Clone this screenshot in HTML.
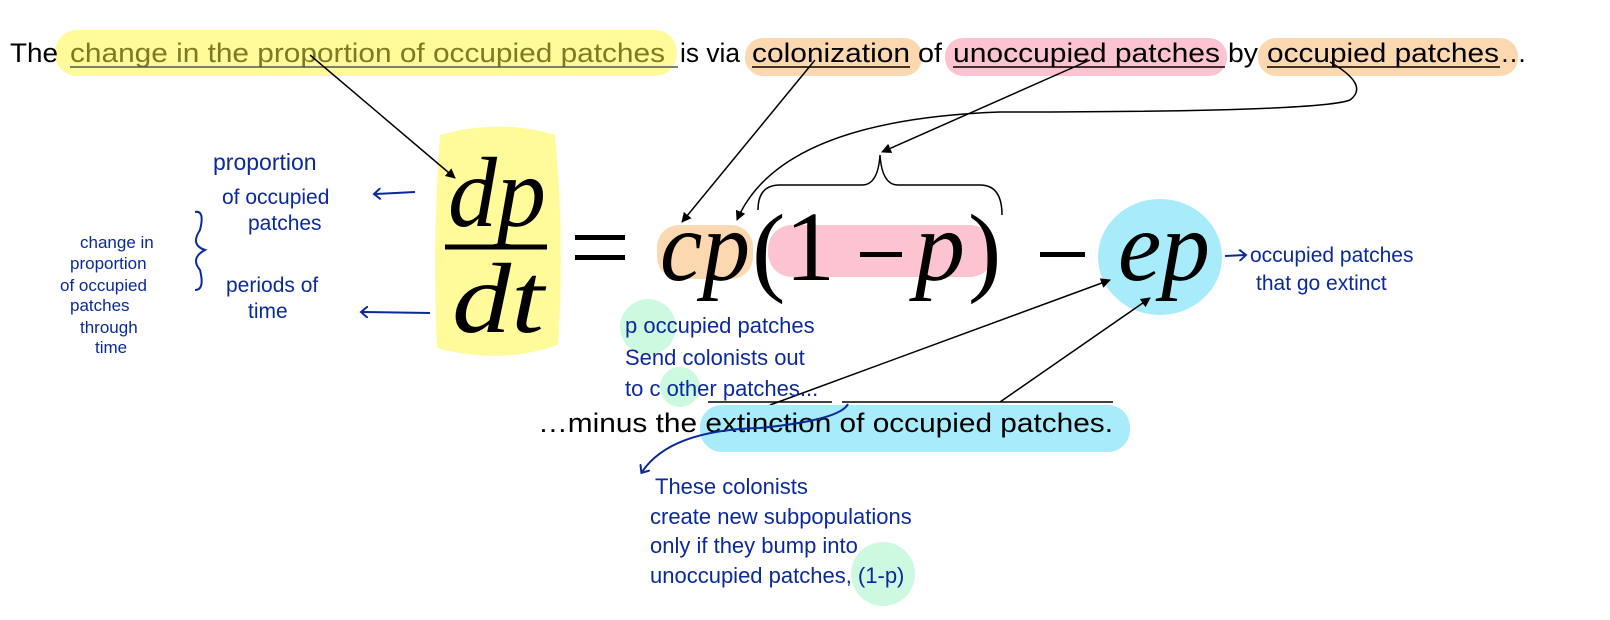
<!DOCTYPE html>
<html><head><meta charset="utf-8"><style>
html,body{margin:0;padding:0;background:#fff;width:1610px;height:620px;overflow:hidden}
svg{display:block}
.t{font-family:"Liberation Sans",Arial,sans-serif;font-size:27px;fill:#000}
.m{font-family:"Liberation Serif",serif;font-style:italic;fill:#000}
.h{font-family:"Liberation Sans Narrow","Liberation Sans",sans-serif;fill:#0a2a9a;font-size:21px}
</style></head><body>
<svg width="1610" height="620" viewBox="0 0 1610 620" xmlns="http://www.w3.org/2000/svg">
<defs>
<marker id="a" markerWidth="10" markerHeight="10" refX="9" refY="5" orient="auto" markerUnits="userSpaceOnUse"><path d="M0,0 L10,5 L0,10 z" fill="#000"/></marker>
<marker id="b" markerWidth="12" markerHeight="12" refX="6" refY="6" orient="auto" markerUnits="userSpaceOnUse"><path d="M0,0 L7,6 L0,12" fill="none" stroke="#0a2a9a" stroke-width="2"/></marker>
</defs>
<rect x="55" y="30" width="622" height="46" rx="22" fill="#fffb9a"/>
<rect x="745" y="38" width="177" height="38" rx="18" fill="#fcd8b0"/>
<rect x="945" y="38" width="282" height="38" rx="18" fill="#fcc3d0"/>
<rect x="1258" y="38" width="260" height="38" rx="18" fill="#fcd8b0"/>
<text class="t" x="10" y="62" textLength="48" lengthAdjust="spacingAndGlyphs">The</text>
<text class="t" x="70" y="62" textLength="595" lengthAdjust="spacingAndGlyphs" style="fill:#7d7a22">change in the proportion of occupied patches</text>
<line x1="70" y1="67" x2="678" y2="67" stroke="#555" stroke-width="1.5"/>
<text class="t" x="680" y="62" textLength="60" lengthAdjust="spacingAndGlyphs">is via</text>
<text class="t" x="752" y="62" textLength="158" lengthAdjust="spacingAndGlyphs">colonization</text>
<line x1="752" y1="67" x2="910" y2="67" stroke="#000" stroke-width="1.5"/>
<text class="t" x="918" y="62" textLength="24" lengthAdjust="spacingAndGlyphs">of</text>
<text class="t" x="953" y="62" textLength="267" lengthAdjust="spacingAndGlyphs">unoccupied patches</text>
<line x1="953" y1="67" x2="1225" y2="67" stroke="#000" stroke-width="1.5"/>
<text class="t" x="1228" y="62" textLength="30" lengthAdjust="spacingAndGlyphs">by</text>
<text class="t" x="1267" y="62" textLength="232" lengthAdjust="spacingAndGlyphs">occupied patches</text>
<line x1="1267" y1="67" x2="1500" y2="67" stroke="#000" stroke-width="1.5"/>
<text class="t" x="1500" y="62">…</text>
<path d="M440,135 Q500,118 555,135 Q565,240 558,345 Q500,365 437,348 Q432,240 440,135 Z" fill="#fffb9a"/>
<rect x="657" y="225" width="96" height="54" rx="22" fill="#fcd8b0"/>
<rect x="768" y="225" width="226" height="52" rx="24" fill="#fcc3d0"/>
<ellipse cx="1160" cy="257" rx="62" ry="58" fill="#a8ecfc"/>
<circle cx="648" cy="327" r="28" fill="#cdf9e0"/>
<circle cx="680" cy="387" r="20" fill="#cdf9e0"/>
<circle cx="883" cy="574" r="32" fill="#cdf9e0"/>
<text class="m" x="448" y="226" font-size="100" textLength="98" lengthAdjust="spacingAndGlyphs">dp</text>
<line x1="445" y1="247" x2="547" y2="247" stroke="#000" stroke-width="5"/>
<text class="m" x="452" y="332" font-size="100" textLength="92" lengthAdjust="spacingAndGlyphs">dt</text>
<rect x="575" y="235" width="50" height="5" fill="#000"/>
<rect x="575" y="255" width="50" height="5" fill="#000"/>
<text class="m" x="660" y="280" font-size="100" textLength="90" lengthAdjust="spacingAndGlyphs">cp</text>
<text x="752" y="283" font-size="100" font-family="Liberation Serif,serif">(</text>
<text x="785" y="280" font-size="100" font-family="Liberation Serif,serif">1</text>
<rect x="860" y="252" width="42" height="5" fill="#000"/>
<text class="m" x="915" y="280" font-size="100">p</text>
<text x="968" y="283" font-size="100" font-family="Liberation Serif,serif">)</text>
<rect x="1040" y="252" width="45" height="5" fill="#000"/>
<text class="m" x="1118" y="280" font-size="100" textLength="92" lengthAdjust="spacingAndGlyphs">ep</text>
<path d="M758,210 Q758,185 780,185 L862,185 Q878,185 880,155 Q882,185 898,185 L980,185 Q1002,185 1002,215" fill="none" stroke="#000" stroke-width="1.5"/>
<line x1="310" y1="55" x2="455" y2="178" stroke="#000" stroke-width="1.5" marker-end="url(#a)"/>
<line x1="815" y1="60" x2="682" y2="222" stroke="#000" stroke-width="1.5" marker-end="url(#a)"/>
<line x1="1090" y1="60" x2="882" y2="152" stroke="#000" stroke-width="1.5" marker-end="url(#a)"/>
<path d="M1330,62 Q1370,85 1350,100 Q1320,112 1000,112 Q780,120 737,220" fill="none" stroke="#000" stroke-width="1.5" marker-end="url(#a)"/>
<line x1="770" y1="405" x2="1110" y2="280" stroke="#000" stroke-width="1.5" marker-end="url(#a)"/>
<line x1="1000" y1="402" x2="1150" y2="298" stroke="#000" stroke-width="1.5" marker-end="url(#a)"/>
<rect x="700" y="405" width="430" height="47" rx="22" fill="#a8ecfc"/>
<line x1="708" y1="402" x2="832" y2="402" stroke="#000" stroke-width="1.5"/>
<line x1="842" y1="402" x2="1113" y2="402" stroke="#000" stroke-width="1.5"/>
<text class="t" x="538" y="432" textLength="575" lengthAdjust="spacingAndGlyphs">…minus the extinction of occupied patches.</text>
<g class="h">
<text x="213" y="170" font-size="23">proportion</text>
<text x="222" y="204">of occupied</text>
<text x="248" y="230">patches</text>
<text x="226" y="292">periods of</text>
<text x="248" y="318">time</text>
<text x="80" y="248" font-size="17">change in</text>
<text x="70" y="269" font-size="17">proportion</text>
<text x="60" y="291" font-size="17">of occupied</text>
<text x="70" y="311" font-size="17">patches</text>
<text x="80" y="333" font-size="17">through</text>
<text x="95" y="353" font-size="17">time</text>
<text x="625" y="333" font-size="22">p occupied patches</text>
<text x="625" y="365" font-size="22">Send colonists out</text>
<text x="625" y="396" font-size="22">to  c other patches...</text>
<text x="1250" y="262">occupied patches</text>
<text x="1256" y="290">that go extinct</text>
<text x="655" y="494" font-size="22">These colonists</text>
<text x="650" y="524" font-size="22">create new subpopulations</text>
<text x="650" y="553" font-size="22">only if they bump into</text>
<text x="650" y="583" font-size="22">unoccupied patches, (1-p)</text>
</g>
<path d="M195,212 Q205,210 200,230 Q190,245 205,250 Q190,258 200,270 Q205,290 195,290" fill="none" stroke="#0a2a9a" stroke-width="2"/>
<line x1="415" y1="192" x2="375" y2="194" stroke="#0a2a9a" stroke-width="2" marker-end="url(#b)"/>
<line x1="430" y1="313" x2="362" y2="312" stroke="#0a2a9a" stroke-width="2" marker-end="url(#b)"/>
<line x1="1225" y1="256" x2="1245" y2="255" stroke="#0a2a9a" stroke-width="2" marker-end="url(#b)"/>
<path d="M848,404 Q840,420 760,428 Q670,430 642,472" fill="none" stroke="#0a2a9a" stroke-width="2" marker-end="url(#b)"/>
</svg>
</body></html>
